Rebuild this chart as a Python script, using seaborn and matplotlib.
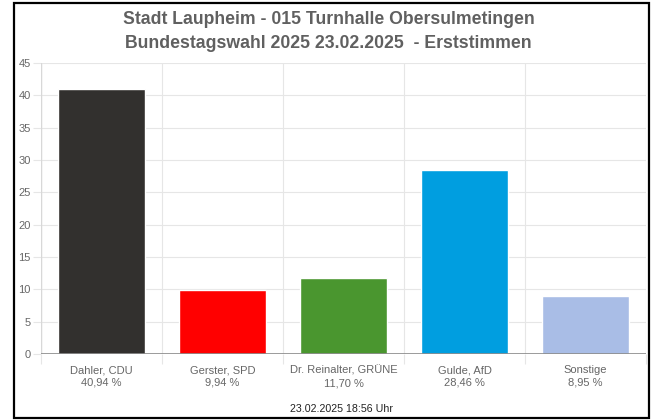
import pandas as pd
import seaborn as sns
import matplotlib.pyplot as plt
from matplotlib.patches import Rectangle

# Werte aus der Grafik
kandidaten = ['Dahler, CDU', 'Gerster, SPD', 'Dr. Reinalter, GRÜNE', 'Gulde, AfD', 'Sonstige']
prozente = [40.94, 9.94, 11.70, 28.46, 8.95]
farben = ['#32302e', '#ff0000', '#4a962f', '#009ee0', '#a9bde6']
y_ticks = [0, 5, 10, 15, 20, 25, 30, 35, 40, 45]

df = pd.DataFrame({'kandidat': kandidaten, 'prozent': prozente})
df['label'] = [f"{k}\n{str(f'{p:.2f}').replace('.', ',')} %" for k, p in zip(kandidaten, prozente)]

sns.set_style('white')
plt.rcParams['font.family'] = ['Liberation Sans', 'DejaVu Sans']

fig = plt.figure(figsize=(6.57, 4.20), dpi=100)
ax = fig.add_axes([41 / 657, 1 - 354 / 420, 605 / 657, 291 / 420])

sns.barplot(data=df, x='label', y='prozent', hue='label', palette=farben,
            width=0.72, legend=False, ax=ax, saturation=1)

ax.set_ylim(0, 45)
ax.set_xlim(-0.5, 4.5)
ax.set_yticks(y_ticks)
ax.set_xlabel('')
ax.set_ylabel('')
for s in ax.spines.values():
    s.set_visible(False)

# Gitter
ax.set_axisbelow(True)
ax.yaxis.grid(True, color='#e6e6e6', linewidth=0.8)
ax.set_xticks([i + 0.5 for i in range(-1, 5)], minor=True)
ax.xaxis.grid(True, which='minor', color='#e6e6e6', linewidth=0.8)
ax.axhline(0, color='#8a8a8a', linewidth=1.2, zorder=5)
ax.axvline(-0.5, color='#d8d8d8', linewidth=1, zorder=1)

ax.tick_params(axis='x', which='major', length=0, pad=8, labelsize=8, labelcolor='#666666')
ax.tick_params(axis='x', which='minor', length=7, color='#e6e6e6', width=0.8)
ax.tick_params(axis='y', length=6, color='#e6e6e6', width=0.8, pad=1.5, labelsize=8, labelcolor='#666666')
ax.tick_params(axis='y', left=True)
ax.tick_params(axis='x', which='minor', bottom=True)
for t in ax.get_xticklabels():
    t.set_linespacing(1.35)

fig.text(0.5, 1 - 20 / 420, 'Stadt Laupheim - 015 Turnhalle Obersulmetingen',
         ha='center', va='center', fontsize=12.7, fontweight='bold', color='#606060')
fig.text(0.5, 1 - 43 / 420, 'Bundestagswahl 2025 23.02.2025  - Erststimmen',
         ha='center', va='center', fontsize=12.7, fontweight='bold', color='#606060')
fig.text(341 / 657, 1 - 409 / 420, '23.02.2025 18:56 Uhr',
         ha='center', va='center', fontsize=7.7, color='#222222')

# Rahmen
fig.patches.append(Rectangle((14 / 657, 1 - 418 / 420), 635 / 657, 415 / 420,
                             transform=fig.transFigure, fill=False,
                             edgecolor='black', linewidth=1.6))

fig.savefig('out.png', dpi=100)
